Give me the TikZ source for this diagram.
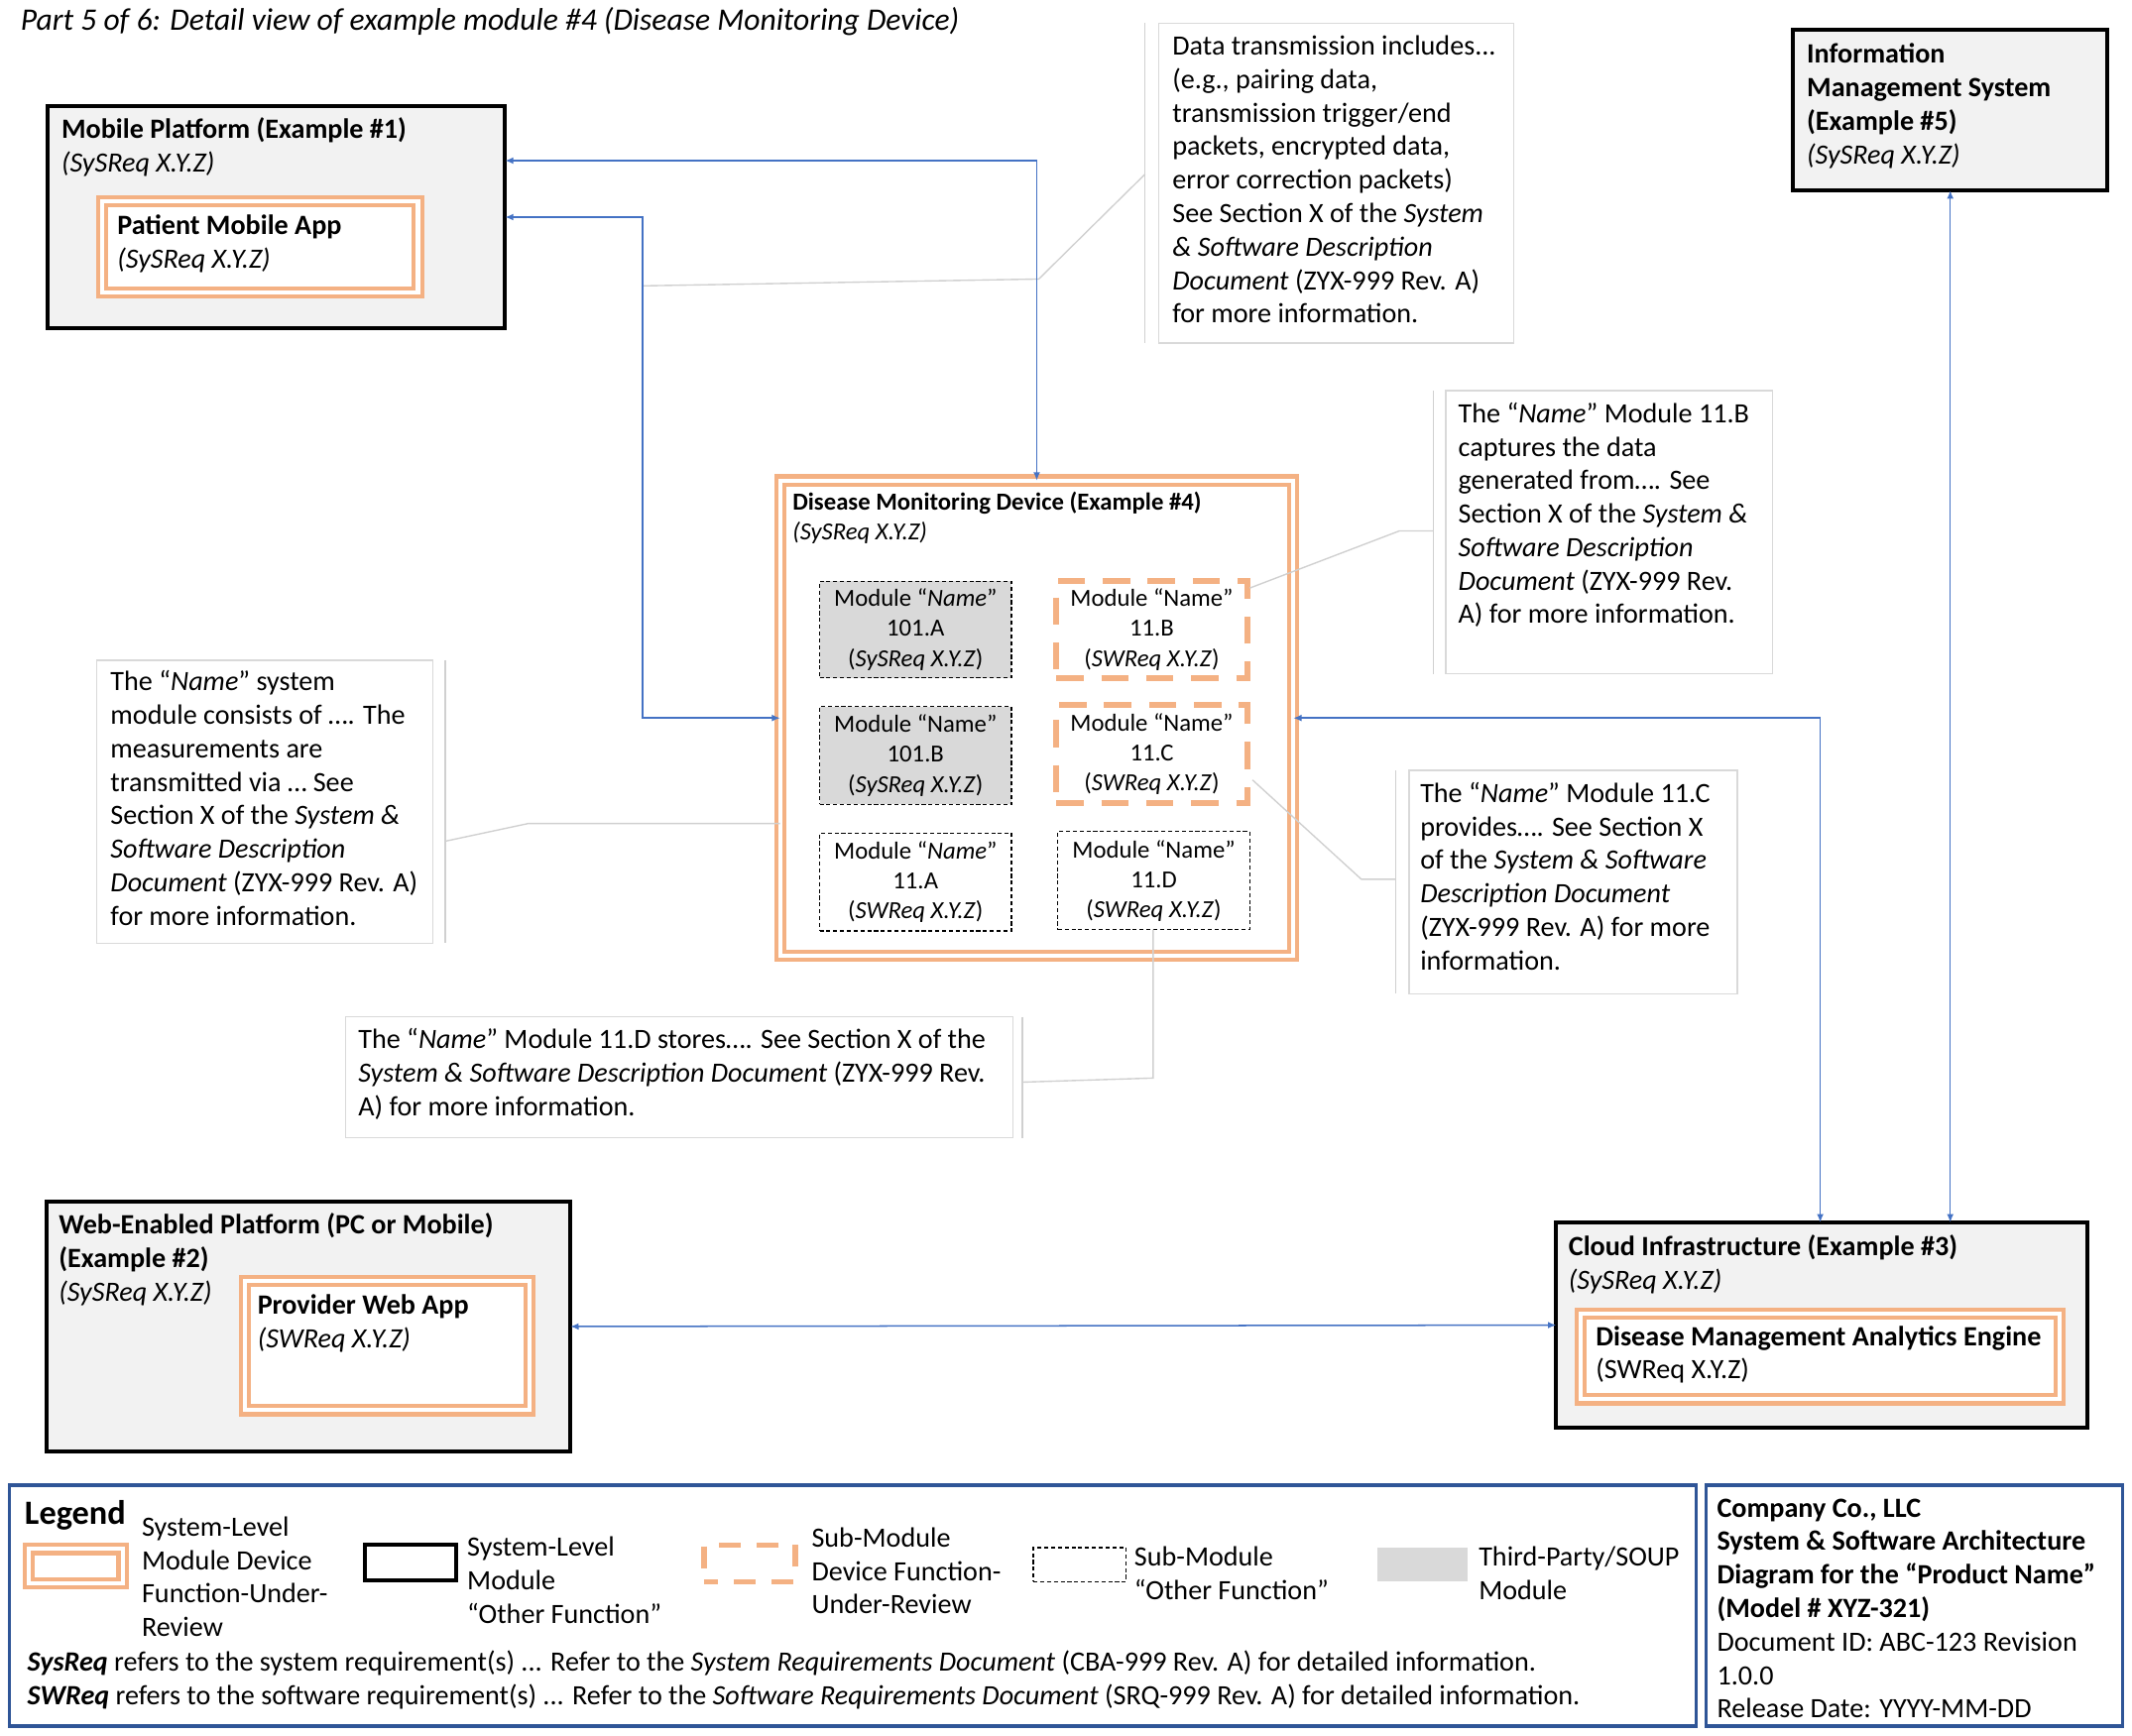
\documentclass[tikz,border=0pt]{standalone}
\usepackage{fontspec}
\setmainfont{Carlito}
\usetikzlibrary{arrows.meta,calc}
\definecolor{org}{HTML}{F4B183}
\definecolor{cblue}{HTML}{4472C4}
\definecolor{lblue}{HTML}{2F5597}
\definecolor{sysfill}{HTML}{F2F2F2}
\definecolor{soup}{HTML}{D9D9D9}
\definecolor{notegray}{HTML}{D9D9D9}
\definecolor{leadgray}{HTML}{D0D0D0}
\begin{document}
\begin{tikzpicture}[x=1pt,y=-1pt,
  box/.style={draw, inner sep=0pt, outer sep=0pt, anchor=north west},
  sysbox/.style={box, draw=black, line width=3pt, fill=sysfill},
  fubox/.style={box, draw=org, line width=3pt, double=white, double distance=3pt, fill=white},
  dashorg/.style={box, draw=org, line width=4.5pt, dash pattern=on 20pt off 13pt, fill=white, align=center, font=\fontsize{18}{22}\selectfont},
  dashblk/.style={box, draw=black, line width=0.9pt, dash pattern=on 3pt off 2pt, align=center, font=\fontsize{18}{22}\selectfont},
  notebox/.style={box, draw=notegray, line width=1pt, fill=white},
  lead/.style={draw=leadgray, line width=1pt},
  conn/.style={draw=cblue, line width=1.1pt, {Latex[length=6pt,width=5pt]}-{Latex[length=6pt,width=5pt]}},
  txt/.style={inner sep=0pt, anchor=base west, align=left, font=\fontsize{20.5}{24.6}\selectfont},
  smalltxt/.style={txt, font=\fontsize{18}{22}\selectfont}
]
\useasboundingbox[fill=white] (0,0) rectangle (1566,1275);

% title
\node[txt, font=\fontsize{23}{27}\selectfont\itshape] (title) at (15,22) {Part 5 of 6: Detail view of example module \#4 (Disease Monitoring Device)};

% Mobile platform
\node[sysbox, minimum width=336pt, minimum height=163pt] (mob) at (35,78) {};
\node[txt] (mobt) at (45,126.1) {\textbf{Mobile Platform (Example \#1)}\\\textit{(SySReq X.Y.Z)}};
\node[fubox, minimum width=232pt, minimum height=67pt] (pma) at (75,148) {};
\node[txt] (pmat) at (86,197.1) {\textbf{Patient Mobile App}\\\textit{(SySReq X.Y.Z)}};

% Information management system
\node[sysbox, minimum width=231pt, minimum height=118pt] (ims) at (1317,22) {};
\node[txt] (imst) at (1327,120.3) {\textbf{Information}\\\textbf{Management System}\\\textbf{(Example \#5)}\\\textit{(SySReq X.Y.Z)}};

% Data transmission note
\draw[lead] (841,17) coordinate (dv1) -- (841,252) coordinate (dv2);
\node[notebox, minimum width=261pt, minimum height=235pt] (dnote) at (851,17) {};
\node[txt] (dnotet) at (861,237.3) {Data transmission includes...\\(e.g., pairing data,\\transmission trigger/end\\packets, encrypted data,\\error correction packets)\\See Section X of the \textit{System}\\\textit{\& Software Description}\\\textit{Document} (ZYX-999 Rev. A)\\for more information.};
\coordinate (dl1) at (841,128);
\coordinate (dl2) at (763,205);
\coordinate (dl3) at (472,210);
\draw[lead] (dl1) -- (dl2) -- (dl3);

% 11.B note
\draw[lead] (1053,287) coordinate (bv1) -- (1053,495) coordinate (bv2);
\node[notebox, minimum width=240pt, minimum height=208pt] (bnote) at (1062,287) {};
\node[txt] (bnotet) at (1071,458.1) {The “\textit{Name}” Module 11.B\\captures the data\\generated from…. See\\Section X of the \textit{System \&}\\\textit{Software Description}\\\textit{Document} (ZYX-999 Rev.\\A) for more information.};

% Device
\node[fubox, minimum width=377pt, minimum height=349pt] (dev) at (573,353) {};
\node[smalltxt] (devt) at (582,396.5) {\textbf{Disease Monitoring Device (Example \#4)}\\\textit{(SySReq X.Y.Z)}};

\node[dashblk, fill=soup, minimum width=141pt, minimum height=71pt] (m101a) at (602,427) {Module “\textit{Name}”\\101.A\\(\textit{SySReq X.Y.Z})};
\node[dashorg, minimum width=140pt, minimum height=71pt] (m11b) at (776,427) {Module “Name”\\11.B\\(\textit{SWReq X.Y.Z})};
\node[dashblk, fill=soup, minimum width=141pt, minimum height=72pt] (m101b) at (602,519) {Module “Name”\\101.B\\(\textit{SySReq X.Y.Z})};
\node[dashorg, minimum width=140pt, minimum height=72pt] (m11c) at (776,518) {Module “Name”\\11.C\\(\textit{SWReq X.Y.Z})};
\node[dashblk, fill=white, minimum width=141pt, minimum height=72pt] (m11a) at (602,612) {Module “\textit{Name}”\\11.A\\(\textit{SWReq X.Y.Z})};
\node[dashblk, fill=white, minimum width=141pt, minimum height=72pt] (m11d) at (777,611) {Module “Name”\\11.D\\(\textit{SWReq X.Y.Z})};

\coordinate (bl1) at (1053,390);
\coordinate (bl2) at (1028,390);
\coordinate (bl3) at (918,432);
\draw[lead] (bl1) -- (bl2) -- (bl3);

% Left note
\draw[lead] (327,485) coordinate (lv1) -- (327,693) coordinate (lv2);
\node[notebox, minimum width=247pt, minimum height=208pt] (lnote) at (71,485) {};
\node[txt] (lnotet) at (81,679.7) {The “\textit{Name}” system\\module consists of …. The\\measurements are\\transmitted via … See\\Section X of the \textit{System \&}\\\textit{Software Description}\\\textit{Document} (ZYX-999 Rev. A)\\for more information.};
\coordinate (ll1) at (327,618);
\coordinate (ll2) at (388,605);
\draw[lead] (ll1) -- (ll2) -- (ll2 -| dev.west);

% 11.C note
\draw[lead] (1025,566) coordinate (cv1) -- (1025,730) coordinate (cv2);
\node[notebox, minimum width=241pt, minimum height=164pt] (cnote) at (1035,566) {};
\node[txt] (cnotet) at (1043,712.5) {The “\textit{Name}” Module 11.C\\provides…. See Section X\\of the \textit{System \& Software}\\\textit{Description Document}\\(ZYX-999 Rev. A) for more\\information.};
\coordinate (cl1) at (1025,646);
\coordinate (cl2) at (1000,646);
\coordinate (cl3) at (920,573);
\draw[lead] (cl1) -- (cl2) -- (cl3);

% 11.D note
\draw[lead] (751,747) coordinate (ddv1) -- (751,836) coordinate (ddv2);
\node[notebox, minimum width=490pt, minimum height=89pt] (ddnote) at (254,747) {};
\node[txt] (ddnotet) at (263,819.7) {The “\textit{Name}” Module 11.D stores…. See Section X of the\\\textit{System \& Software Description Document} (ZYX-999 Rev.\\A) for more information.};
\coordinate (dd1) at (751,795);
\coordinate (dd2) at (847,792);
\draw[lead] (dd1) -- (dd2) -- (dd2 |- m11d.south);

% Web platform
\node[sysbox, minimum width=385pt, minimum height=183pt] (web) at (34,883) {};
\node[txt] (webt) at (43,955.7) {\textbf{Web-Enabled Platform (PC or Mobile)}\\\textbf{(Example \#2)}\\\textit{(SySReq X.Y.Z)}};
\node[fubox, minimum width=209pt, minimum height=95pt] (pwa) at (180,941) {};
\node[txt] (pwat) at (189,990.1) {\textbf{Provider Web App}\\\textit{(SWReq X.Y.Z)}};

% Cloud
\node[sysbox, minimum width=390pt, minimum height=151pt] (cloud) at (1143,898) {};
\node[txt] (cloudt) at (1152,947.1) {\textbf{Cloud Infrastructure (Example \#3)}\\\textit{(SySReq X.Y.Z)}};
\node[fubox, minimum width=352pt, minimum height=63pt] (dmae) at (1161,965) {};
\node[txt] (dmaet) at (1172,1013.1) {\textbf{Disease Management Analytics Engine}\\(SWReq X.Y.Z)};

% connectors
\draw[conn] (dev.north) |- ($(mob.north east)+(0,40)$);
\draw[conn] (mob.east) -- ++(101,0) |- (dev.west);
\draw[conn] (dev.east) -| ($(cloud.north west)+(194,0)$);
\draw[conn] (ims.south) -- (ims.south |- cloud.north);
\draw[conn] (web.east) -- (cloud.west);

% Legend
\node[box, draw=lblue, line width=2.5pt, minimum width=1239pt, minimum height=177pt] (legend) at (7,1091) {};
\node[txt, font=\fontsize{25}{30}\selectfont\bfseries] (legt) at (18,1120) {Legend};
\node[fubox, minimum width=69pt, minimum height=25pt] (lg1) at (21,1138) {};
\node[txt] (lg1t) at (104,1202.3) {System-Level\\Module Device\\Function-Under-\\Review};
\node[box, draw=black, line width=3pt, minimum width=67pt, minimum height=26pt] (lg2) at (268,1135) {};
\node[txt] (lg2t) at (343,1192.7) {System-Level\\Module\\“Other Function”};
\node[box, draw=org, line width=4pt, dash pattern=on 16pt off 12pt, dash phase=6pt, minimum width=67pt, minimum height=27pt] (lg3) at (517,1135) {};
\node[txt] (lg3t) at (596,1185.7) {Sub-Module\\Device Function-\\Under-Review};
\node[box, draw=black, line width=0.9pt, dash pattern=on 3pt off 2pt, minimum width=68pt, minimum height=25pt] (lg4) at (759,1137) {};
\node[txt] (lg4t) at (833,1175.1) {Sub-Module\\“Other Function”};
\node[box, draw=none, fill=soup, minimum width=66pt, minimum height=25pt] (lg5) at (1012,1137) {};
\node[txt] (lg5t) at (1086,1175.1) {Third-Party/SOUP\\Module};
\node[txt] (legref) at (20,1252.1) {\textbf{\textit{SysReq}} refers to the system requirement(s) ... Refer to the \textit{System Requirements Document} (CBA-999 Rev. A) for detailed information.\\\textbf{\textit{SWReq}} refers to the software requirement(s) ... Refer to the \textit{Software Requirements Document} (SRQ-999 Rev. A) for detailed information.};

% Title block
\node[box, draw=lblue, line width=2.5pt, minimum width=306pt, minimum height=177pt] (tblock) at (1253,1091) {};
\node[txt] (tblockt) at (1261,1262.1) {\textbf{Company Co., LLC}\\\textbf{System \& Software Architecture}\\\textbf{Diagram for the “Product Name”}\\\textbf{(Model \# XYZ-321)}\\Document ID: ABC-123 Revision\\1.0.0\\Release Date: YYYY-MM-DD};
\end{tikzpicture}
\end{document}
